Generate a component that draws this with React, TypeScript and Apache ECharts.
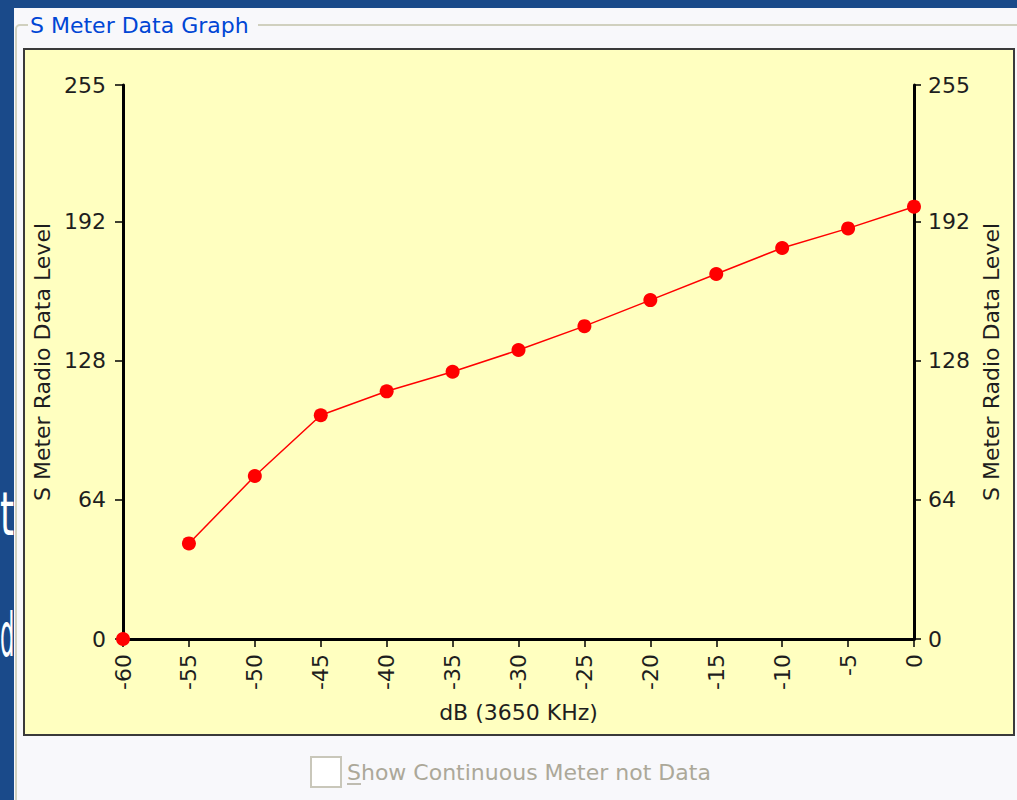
import React, { useEffect, useRef } from "react";
import * as echarts from "echarts";

const dbValues = [-60, -55, -50, -45, -40, -35, -30, -25, -20, -15, -10, -5, 0];
const levels = [0, 44, 75, 103, 114, 123, 133, 144, 156, 168, 180, 189, 199];
const xTicks = { min: -60, max: 0, step: 5 };
const yTicks = { min: 0, max: 255, step: 64 };

const titleText = "S Meter Data Graph";
const xName = "dB (3650 KHz)";
const yName = "S Meter Radio Data Level";
const checkboxText = "Show Continuous Meter not Data";

const FONT = "DejaVu Sans";

export default function App() {
  const ref = useRef<HTMLDivElement>(null);

  useEffect(() => {
    if (!ref.current) return;
    const chart = echarts.init(ref.current, null, { renderer: "svg" });

    const isolated = [[dbValues[0], levels[0]]];
    const connected = dbValues.slice(1).map((d, i) => [d, levels[i + 1]]);

    const axisCommon = {
      type: "value" as const,
      min: yTicks.min,
      max: yTicks.max,
      interval: yTicks.step,
      splitLine: { show: false },
      axisLine: { show: true, onZero: false, lineStyle: { color: "#000", width: 3 } },
      axisTick: { show: true, length: 8, lineStyle: { color: "#000", width: 1.5 } },
      axisLabel: { fontFamily: FONT, fontSize: 22, color: "#1e1e1e", margin: 17 },
      name: yName,
      nameLocation: "middle" as const,
      nameRotate: 90,
      nameGap: 64,
      nameTextStyle: { fontFamily: FONT, fontSize: 22, color: "#1e1e1e" },
    };

    chart.setOption({
      animation: false,
      backgroundColor: "transparent",
      graphic: [
        { type: "rect", z: -20, shape: { x: 0, y: 0, width: 1017, height: 800 }, style: { fill: "#1a4a8a" } },
        { type: "text", z: -19, x: 0, y: 514, scaleX: 0.6, style: { text: "t", fill: "#ffffff", font: `60px ${FONT}`, textAlign: "left", textVerticalAlign: "middle" } },
        { type: "text", z: -19, x: 0, y: 636, scaleX: 0.38, style: { text: "d", fill: "#ffffff", font: `60px ${FONT}`, textAlign: "left", textVerticalAlign: "middle" } },
        { type: "rect", z: -18, shape: { x: 14, y: 8, width: 1010, height: 800 }, style: { fill: "#f8f8fb" } },
        { type: "rect", z: -17, shape: { x: 16, y: 25, width: 1100, height: 900, r: 4 }, style: { fill: "none", stroke: "#d0d0bf", lineWidth: 2 } },
        { type: "rect", z: -16, shape: { x: 28, y: 12, width: 230, height: 26 }, style: { fill: "#f8f8fb" } },
        { type: "text", z: -15, x: 30, y: 25, style: { text: titleText, fill: "#0046d5", font: `22px ${FONT}`, textVerticalAlign: "middle" } },
        { type: "rect", z: -15, shape: { x: 24, y: 49, width: 990, height: 686 }, style: { fill: "#ffffc0", stroke: "#3a3a3a", lineWidth: 2 } },
        { type: "rect", z: -15, shape: { x: 311, y: 757, width: 30, height: 30 }, style: { fill: "#ffffff", stroke: "#c9c7ba", lineWidth: 2 } },
        { type: "text", z: -15, x: 347, y: 772, style: { text: checkboxText, fill: "#aca899", font: `22px ${FONT}`, textVerticalAlign: "middle" } },
        { type: "line", z: -15, shape: { x1: 347, y1: 784, x2: 361, y2: 784 }, style: { stroke: "#aca899", lineWidth: 1.5 } },
      ],
      grid: { left: 123, right: 103, top: 85, bottom: 161, containLabel: false },
      xAxis: {
        type: "value",
        min: xTicks.min,
        max: xTicks.max,
        interval: xTicks.step,
        splitLine: { show: false },
        axisLine: { show: true, onZero: false, lineStyle: { color: "#000", width: 3 } },
        axisTick: { show: true, length: 8, lineStyle: { color: "#000", width: 1.5 } },
        axisLabel: { rotate: 90, fontFamily: FONT, fontSize: 22, color: "#1e1e1e", margin: 15 },
        name: xName,
        nameLocation: "middle",
        nameGap: 62,
        nameTextStyle: { fontFamily: FONT, fontSize: 22, color: "#1e1e1e" },
      },
      yAxis: [
        { ...axisCommon, position: "left" },
        { ...axisCommon, position: "right", axisLabel: { ...axisCommon.axisLabel, margin: 14 }, axisTick: { ...axisCommon.axisTick, length: 7 } },
      ],
      series: [
        {
          type: "line",
          data: connected,
          clip: false,
          symbol: "circle",
          symbolSize: 14,
          itemStyle: { color: "#ff0000", opacity: 1 },
          lineStyle: { color: "#ff0000", width: 1.5 },
        },
        {
          type: "scatter",
          data: isolated,
          clip: false,
          symbol: "circle",
          symbolSize: 14,
          itemStyle: { color: "#ff0000", opacity: 1 },
        },
      ],
    });

    return () => chart.dispose();
  }, []);

  return <div ref={ref} style={{ position: "absolute", left: 0, top: 0, width: 1017, height: 800 }} />;
}
